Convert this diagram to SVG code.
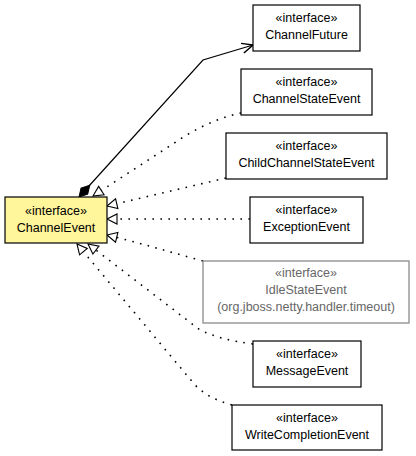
<svg xmlns="http://www.w3.org/2000/svg" width="416" height="456" viewBox="0 0 416 456">
<style>
.box{fill:#fff;stroke:#000;stroke-width:1.2}
.sel{fill:#fff59b;stroke:#000;stroke-width:1.2}
.gray{fill:#fff;stroke:#808080;stroke-width:1.2}
text{font-family:"Liberation Sans",Arial,sans-serif;font-size:12.5px;text-anchor:middle;fill:#000}
text.g{fill:#666}
.dot{fill:none;stroke:#000;stroke-width:1.6;stroke-dasharray:1.6 6.4;stroke-linecap:butt}
.solid{fill:none;stroke:#000;stroke-width:1.2}
</style>
<defs>
<marker id="tri" markerUnits="userSpaceOnUse" markerWidth="14" markerHeight="14" viewBox="-12 -7 14 14" refX="0" refY="0" orient="auto" overflow="visible">
<path d="M0,0 L-10,-5 L-10,5 Z" fill="#fff" stroke="#000" stroke-width="1.1" stroke-dasharray="none"/>
</marker>
<marker id="vee" markerUnits="userSpaceOnUse" markerWidth="14" markerHeight="14" viewBox="-12 -7 14 14" refX="0" refY="0" orient="auto" overflow="visible">
<path d="M-11,-5 L0,0 L-11,5" fill="none" stroke="#000" stroke-width="1.5"/>
</marker>
<marker id="dia" markerUnits="userSpaceOnUse" markerWidth="18" markerHeight="12" viewBox="-1 -6 18 12" refX="0" refY="0" orient="auto" overflow="visible">
<path d="M0,0 L8,-4.5 L16,0 L8,4.5 Z" fill="#000" stroke="#000" stroke-width="1"/>
</marker>
</defs>
<g id="connectors">
<path class="solid" d="M79,197 L203,60 L253,45" marker-start="url(#dia)" marker-end="url(#vee)"/>
<path class="dot" d="M241,113 C225,116 205,124 185,136 L93,196" marker-end="url(#tri)"/>
<path class="dot" d="M226,178 L107,206" marker-end="url(#tri)"/>
<path class="dot" d="M250,219 L107,219" marker-end="url(#tri)"/>
<path class="dot" d="M203,261 C170,252 140,243 107,235" marker-end="url(#tri)"/>
<path class="dot" d="M253,344 C230,341 215,337 200,330 L88,244" marker-end="url(#tri)"/>
<path class="dot" d="M232,405 C215,400 205,395 195,385 L77,244" marker-end="url(#tri)"/>
</g>
<g id="ChannelEvent">
<rect class="sel" x="5" y="197" width="102" height="46"/>
<text x="56" y="215">«interface»</text>
<text x="56" y="232">ChannelEvent</text>
</g>
<g id="ChannelFuture">
<rect class="box" x="253" y="5" width="107" height="46"/>
<text x="306.5" y="22">«interface»</text>
<text x="306.5" y="39">ChannelFuture</text>
</g>
<g id="ChannelStateEvent">
<rect class="box" x="241" y="69" width="131" height="46"/>
<text x="306.5" y="86">«interface»</text>
<text x="306.5" y="103">ChannelStateEvent</text>
</g>
<g id="ChildChannelStateEvent">
<rect class="box" x="226" y="133" width="161" height="46"/>
<text x="306.5" y="150">«interface»</text>
<text x="306.5" y="167">ChildChannelStateEvent</text>
</g>
<g id="ExceptionEvent">
<rect class="box" x="250" y="197" width="113" height="46"/>
<text x="306.5" y="214">«interface»</text>
<text x="306.5" y="231">ExceptionEvent</text>
</g>
<g id="IdleStateEvent">
<rect class="gray" x="203" y="261" width="206" height="62"/>
<text class="g" x="306" y="277">«interface»</text>
<text class="g" x="306" y="294">IdleStateEvent</text>
<text class="g" x="306" y="311">(org.jboss.netty.handler.timeout)</text>
</g>
<g id="MessageEvent">
<rect class="box" x="253" y="341" width="108" height="46"/>
<text x="307" y="358">«interface»</text>
<text x="307" y="375">MessageEvent</text>
</g>
<g id="WriteCompletionEvent">
<rect class="box" x="232" y="405" width="150" height="45"/>
<text x="307" y="422">«interface»</text>
<text x="307" y="439">WriteCompletionEvent</text>
</g>
</svg>
